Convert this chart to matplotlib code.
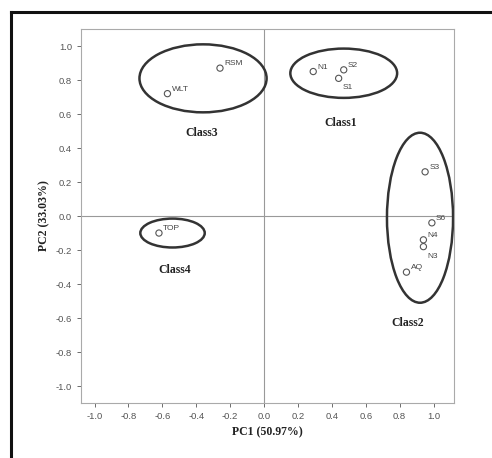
import matplotlib
matplotlib.use("Agg")
import matplotlib.pyplot as plt
from matplotlib.patches import Ellipse
from matplotlib.lines import Line2D

# sample loadings
names = ["RSM", "WLT", "N1", "S2", "S1", "S3", "S6", "N4", "N3", "AQ", "TOP"]
pc1 = [-0.26, -0.57, 0.29, 0.47, 0.44, 0.95, 0.99, 0.94, 0.94, 0.84, -0.62]
pc2 = [0.87, 0.72, 0.85, 0.86, 0.81, 0.26, -0.04, -0.14, -0.18, -0.33, -0.10]

# class groupings: centre, width, height, label position
class_names = ["Class1", "Class2", "Class3", "Class4"]
class_cx = [0.47, 0.92, -0.36, -0.54]
class_cy = [0.84, -0.01, 0.81, -0.10]
class_w = [0.63, 0.39, 0.75, 0.38]
class_h = [0.29, 1.00, 0.40, 0.17]
label_x = [0.45, 0.85, -0.37, -0.53]
label_y = [0.55, -0.63, 0.49, -0.32]

ticks = [-1.0, -0.8, -0.6, -0.4, -0.2, 0.0, 0.2, 0.4, 0.6, 0.8, 1.0]

fig = plt.figure(figsize=(4.92, 4.58), dpi=100)
ax = fig.add_axes([0.1646, 0.12, 0.758, 0.8166])

ax.axhline(0, color="#999999", lw=0.8, zorder=1)
ax.axvline(0, color="#999999", lw=0.8, zorder=1)

ax.scatter(pc1, pc2, s=20, facecolors="none", edgecolors="#555555", linewidths=0.8, zorder=3)
for n, x, y in zip(names, pc1, pc2):
    off = (3, -8) if n in ("S1", "N3") else (3, 2)
    ax.annotate(n, (x, y), xytext=off, textcoords="offset points",
                fontsize=6, color="#444444", family="Liberation Sans")

for i in range(len(class_names)):
    ax.add_patch(Ellipse((class_cx[i], class_cy[i]), class_w[i], class_h[i],
                         fill=False, edgecolor="#333333", lw=1.8, zorder=2))
    ax.text(label_x[i], label_y[i], class_names[i], ha="center", va="center",
            fontsize=8.5, fontweight="bold", family="Liberation Serif", color="#222222")

ax.set_xlim(-1.08, 1.12)
ax.set_ylim(-1.1, 1.1)
ax.set_xticks(ticks)
ax.set_yticks(ticks)
ax.set_xticklabels([f"{t:.1f}" for t in ticks])
ax.set_yticklabels([f"{t:.1f}" for t in ticks])
ax.tick_params(labelsize=6.8, colors="#555555", length=3, width=0.6)
for lab in ax.get_xticklabels() + ax.get_yticklabels():
    lab.set_family("Liberation Sans")
for sp in ax.spines.values():
    sp.set_color("#aaaaaa")
    sp.set_linewidth(0.8)

ax.set_xlabel("PC1 (50.97%)", fontsize=8.5, fontweight="bold", family="Liberation Serif", color="#222222")
ax.set_ylabel("PC2 (33.03%)", fontsize=8.5, fontweight="bold", family="Liberation Serif", color="#222222")

# black frame around the figure (top and left visible)
top = 1 - 12 / 458
left = 11 / 492
fig.add_artist(Line2D([left, 1.0], [top, top], color="#111111", lw=2.2, transform=fig.transFigure))
fig.add_artist(Line2D([left, left], [0.0, top], color="#111111", lw=2.2, transform=fig.transFigure))

fig.savefig("out.png", dpi=100)
